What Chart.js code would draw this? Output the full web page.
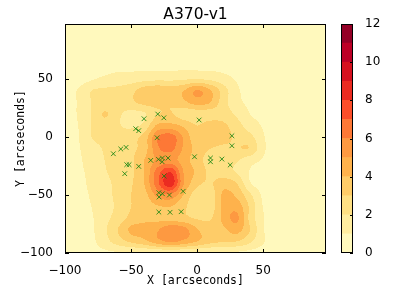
<!DOCTYPE html>
<html>
<head>
<meta charset="utf-8">
<script src="https://cdn.jsdelivr.net/npm/chart.js@4"></script>
<style>
  html, body { margin: 0; padding: 0; background: #fff; }
  #wrap { position: relative; width: 399px; height: 299px; }
  #main { position: absolute; left: 0; top: 0; }
  #cbar { position: absolute; left: 330px; top: 0; }
</style>
</head>
<body>
<div id="wrap">
  <canvas id="main" width="399" height="299"></canvas>
  <canvas id="cbar" width="69" height="299"></canvas>
</div>
<script>
// density grid (rows from y=100 down to y=-100)
const gridX = [-100, -90, -80, -70, -60, -50, -40, -30, -20, -10, 0, 10, 20, 30, 40, 50, 60, 70, 80, 90, 100];
const gridY = [100, 90, 80, 70, 60, 50, 40, 30, 20, 10, 0, -10, -20, -30, -40, -50, -60, -70, -80, -90, -100];
const density = [
  [0.1,0.1,0.1,0.1,0.1,0.1,0.1,0.1,0.1,0.1,0.1,0.1,0.1,0.1,0.1,0.1,0.1,0.1,0.1,0.1,0.1],
  [0.1,0.1,0.1,0.1,0.1,0.1,0.1,0.1,0.1,0.1,0.1,0.1,0.1,0.1,0.1,0.1,0.1,0.1,0.1,0.1,0.1],
  [0.1,0.2,0.2,0.2,0.2,0.2,0.2,0.2,0.2,0.2,0.2,0.2,0.2,0.2,0.1,0.1,0.1,0.1,0.1,0.1,0.1],
  [0.2,0.3,0.4,0.5,0.5,0.5,0.5,0.5,0.5,0.5,0.5,0.5,0.4,0.3,0.2,0.2,0.1,0.1,0.1,0.1,0.1],
  [0.2,0.4,0.6,0.7,0.8,0.8,0.8,0.8,0.8,0.8,0.8,0.8,0.7,0.5,0.3,0.2,0.1,0.1,0.1,0.1,0.1],
  [0.3,0.5,0.9,1.2,1.4,1.5,1.7,1.8,1.8,1.9,2.0,1.8,1.4,0.9,0.5,0.3,0.2,0.1,0.1,0.1,0.1],
  [0.4,1.1,2.0,2.2,2.3,2.7,3.5,3.8,3.5,4.0,5.1,4.1,2.5,1.2,0.6,0.4,0.2,0.1,0.1,0.1,0.1],
  [0.4,1.1,2.0,2.3,2.4,2.8,3.3,3.4,3.1,3.8,4.4,4.0,2.4,1.3,0.8,0.6,0.3,0.1,0.1,0.1,0.1],
  [0.4,1.1,2.0,3.1,2.2,1.7,1.9,2.9,3.1,2.4,2.4,2.5,2.5,1.8,1.0,0.7,0.3,0.1,0.1,0.1,0.1],
  [0.4,1.0,2.0,2.5,2.1,1.8,2.3,4.2,4.3,3.8,3.0,3.5,3.2,2.4,1.5,0.9,0.4,0.1,0.1,0.1,0.1],
  [0.4,0.95,2.0,2.3,2.4,2.7,3.4,5.9,6.5,4.8,3.3,3.9,3.5,2.7,2.3,1.1,0.5,0.2,0.1,0.1,0.1],
  [0.4,0.9,1.6,2.1,2.5,2.8,3.5,5.8,6.3,4.8,3.6,3.0,2.7,2.9,2.9,1.2,0.5,0.2,0.1,0.1,0.1],
  [0.3,0.8,1.5,2.0,2.5,2.8,4.0,5.2,5.4,4.5,3.4,2.6,2.4,2.1,1.4,0.9,0.4,0.1,0.1,0.1,0.1],
  [0.3,0.75,1.3,1.9,2.4,2.8,4.0,6.5,7.9,4.9,3.8,2.7,2.4,1.9,0.95,0.6,0.3,0.1,0.1,0.1,0.1],
  [0.3,0.7,1.2,1.7,2.3,2.9,4.0,6.7,8.6,5.0,3.3,2.9,3.6,3.0,1.1,0.6,0.3,0.1,0.1,0.1,0.1],
  [0.3,0.65,1.1,1.6,2.3,3.0,3.6,5.3,5.8,3.9,2.4,2.4,4.2,3.8,2.2,0.8,0.3,0.1,0.1,0.1,0.1],
  [0.3,0.6,1.0,1.6,2.2,3.0,3.4,3.9,4.0,3.2,2.3,2.4,4.3,4.6,2.8,0.95,0.3,0.1,0.1,0.1,0.1],
  [0.3,0.55,0.9,1.7,2.4,3.3,3.7,3.7,3.6,3.3,2.9,2.9,4.3,5.2,2.7,1.1,0.3,0.1,0.1,0.1,0.1],
  [0.3,0.5,0.85,1.8,3.0,4.2,4.4,4.9,5.8,5.4,4.1,3.4,3.8,4.4,3.0,1.1,0.3,0.1,0.1,0.1,0.1],
  [0.3,0.45,0.75,1.6,2.5,3.2,3.7,4.6,5.2,4.7,4.0,3.3,3.1,3.0,2.2,1.1,0.3,0.1,0.1,0.1,0.1],
  [0.2,0.4,0.6,0.8,0.9,0.9,1.0,1.0,1.0,1.0,0.95,0.9,0.9,0.85,0.7,0.5,0.2,0.1,0.1,0.1,0.1]
];

// green x markers
const ptX = [-40.2,-29.8,-25.2,1.5,-46.5,-44.2,-30.3,26.3,26.3,-63.4,-57.8,-53.8,-35.1,-29.3,-26.3,-26.5,-22,-2,10.1,10.1,18.7,25,-53.3,-51.5,-44.2,-54.8,-25,-29,-26.3,-28.8,-21,-10.6,-29,-20.5,-12.1];
const ptY = [15.8,19.8,16.6,14.7,7.2,5.5,-0.6,1.1,-7.5,-14.4,-10.3,-8.9,-20.1,-19.2,-18.1,-21.3,-18.1,-17,-18.1,-21.3,-19,-24.1,-23.8,-23.8,-25.3,-31.6,-33.6,-48,-48.9,-51.7,-50,-46.8,-64.7,-64.9,-64.4];

const levels = [0,1,2,3,4,5,6,7,8,9,10,11,12];
const xTicks = [-100, -50, 0, 50];
const yTicks = [-100, -50, 0, 50];
const cbTicks = [0, 2, 4, 6, 8, 10, 12];
const plotTitle = 'A370-v1';

// YlOrRd bands
const bandColors = [
  [255,249,189],[255,237,160],[254,224,132],[254,204,104],[254,178,76],[253,153,65],
  [253,120,54],[252,78,42],[235,43,33],[214,17,31],[189,0,38],[148,0,38]
];

function cr(p0, p1, p2, p3, t) {
  return p1 + 0.5 * t * (p2 - p0 + t * (2 * p0 - 5 * p1 + 4 * p2 - p3 + t * (3 * (p1 - p2) + p3 - p0)));
}
function cell(i, j) {
  i = Math.max(0, Math.min(gridY.length - 1, i));
  j = Math.max(0, Math.min(gridX.length - 1, j));
  return density[i][j];
}
function fieldAt(x, y) {
  const fx = (x - gridX[0]) / (gridX[1] - gridX[0]);
  const fy = (gridY[0] - y) / (gridY[0] - gridY[1]);
  const j = Math.floor(fx), i = Math.floor(fy);
  const tx = fx - j, ty = fy - i;
  const rows = [];
  for (let k = -1; k <= 2; k++) {
    rows.push(cr(cell(i + k, j - 1), cell(i + k, j), cell(i + k, j + 1), cell(i + k, j + 2), tx));
  }
  return cr(rows[0], rows[1], rows[2], rows[3], ty);
}

const fieldPlugin = {
  id: 'field',
  beforeDraw(chart) {
    const {ctx, chartArea: ca, scales: {x, y}} = chart;
    const L = Math.round(ca.left), T = Math.round(ca.top);
    const W = Math.round(ca.right) - L, H = Math.round(ca.bottom) - T;
    const img = ctx.createImageData(W, H);
    for (let r = 0; r < H; r++) {
      const yv = y.getValueForPixel(T + r + 0.5);
      for (let c = 0; c < W; c++) {
        const xv = x.getValueForPixel(L + c + 0.5);
        const v = fieldAt(xv, yv);
        let b = 0;
        for (let k = 1; k < levels.length - 1; k++) if (v >= levels[k]) b = k;
        const col = bandColors[b];
        const o = (r * W + c) * 4;
        img.data[o] = col[0]; img.data[o + 1] = col[1]; img.data[o + 2] = col[2]; img.data[o + 3] = 255;
      }
    }
    ctx.putImageData(img, L, T);
  }
};

const framePlugin = {
  id: 'frame',
  afterDraw(chart) {
    const {ctx, chartArea: ca, scales: {x, y}} = chart;
    ctx.save();
    ctx.strokeStyle = '#000';
    ctx.lineWidth = 1;
    ctx.beginPath();
    xTicks.forEach(v => {
      const px = Math.round(x.getPixelForValue(v)) + 0.5;
      ctx.moveTo(px, ca.bottom); ctx.lineTo(px, ca.bottom - 4);
      ctx.moveTo(px, ca.top); ctx.lineTo(px, ca.top + 4);
    });
    yTicks.forEach(v => {
      const py = Math.round(y.getPixelForValue(v)) + 0.5;
      ctx.moveTo(ca.left, py); ctx.lineTo(ca.left + 4, py);
      ctx.moveTo(ca.right, py); ctx.lineTo(ca.right - 4, py);
    });
    ctx.stroke();
    ctx.strokeRect(Math.round(ca.left) + 0.5, Math.round(ca.top) + 0.5,
      Math.round(ca.right - ca.left) - 1, Math.round(ca.bottom - ca.top) - 1);
    // title centred over the plot area
    ctx.fillStyle = '#000';
    ctx.font = '15.5px "DejaVu Sans"';
    ctx.textAlign = 'center';
    ctx.textBaseline = 'alphabetic';
    ctx.fillText(plotTitle, (ca.left + ca.right) / 2, ca.top - 5);
    ctx.restore();
  }
};

const minus = v => String(v).replace('-', '\u2212');
const tickFont = {family: 'DejaVu Sans', size: 12};
const labelFont = {family: 'DejaVu Sans Mono', size: 11.5};

new Chart(document.getElementById('main'), {
  type: 'scatter',
  data: {
    datasets: [{
      data: ptX.map((v, i) => ({x: v, y: ptY[i]})),
      pointStyle: 'crossRot',
      radius: 3.3,
      borderColor: 'rgba(10,128,10,0.8)',
      borderWidth: 1
    }]
  },
  options: {
    responsive: false,
    animation: false,
    devicePixelRatio: 1,
    layout: {padding: {left: 0, right: 73, top: 24, bottom: 0}},
    plugins: {
      legend: {display: false},
      tooltip: {enabled: false},
      title: {display: false}
    },
    scales: {
      x: {
        type: 'linear', min: -100, max: 97.5,
        afterBuildTicks: s => { s.ticks = xTicks.map(v => ({value: v})); },
        afterFit: s => { s.height = 46; },
        grid: {display: false}, border: {display: false},
        ticks: {font: tickFont, color: '#000', padding: 3, maxRotation: 0, autoSkip: false, callback: minus},
        title: {display: true, text: 'X [arcseconds]', color: '#000', font: labelFont, padding: {top: 0, bottom: 11}}
      },
      y: {
        type: 'linear', min: -100, max: 97.5,
        afterBuildTicks: s => { s.ticks = yTicks.map(v => ({value: v})); },
        afterFit: s => { s.width = 65; },
        grid: {display: false}, border: {display: false},
        ticks: {font: tickFont, color: '#000', padding: 4, autoSkip: false, callback: minus},
        title: {display: true, text: 'Y [arcseconds]', color: '#000', font: labelFont, padding: {top: 14, bottom: 0}}
      }
    }
  },
  plugins: [fieldPlugin, framePlugin]
});

const cbFrame = {
  id: 'cbFrame',
  afterDraw(chart) {
    const {ctx, chartArea: ca, scales: {y}} = chart;
    ctx.save();
    ctx.strokeStyle = '#000';
    ctx.lineWidth = 1;
    ctx.beginPath();
    cbTicks.forEach(v => {
      const py = Math.round(y.getPixelForValue(v)) + 0.5;
      ctx.moveTo(ca.right, py); ctx.lineTo(ca.right - 3, py);
    });
    ctx.stroke();
    ctx.strokeRect(Math.round(ca.left) + 0.5, Math.round(ca.top) + 0.5,
      Math.round(ca.right - ca.left) - 1, Math.round(ca.bottom - ca.top) - 1);
    ctx.restore();
  }
};

new Chart(document.getElementById('cbar'), {
  type: 'bar',
  data: {
    labels: [''],
    datasets: bandColors.map((c, i) => ({
      data: [levels[i + 1] - levels[i]],
      backgroundColor: `rgb(${c[0]},${c[1]},${c[2]})`,
      borderWidth: 0,
      barPercentage: 1,
      categoryPercentage: 1
    }))
  },
  options: {
    responsive: false,
    animation: false,
    devicePixelRatio: 1,
    layout: {padding: {left: 11, right: 0, top: 24, bottom: 46}},
    plugins: {legend: {display: false}, tooltip: {enabled: false}},
    scales: {
      x: {display: false, stacked: true},
      y: {
        stacked: true, position: 'right', min: 0, max: 12,
        afterBuildTicks: s => { s.ticks = cbTicks.map(v => ({value: v})); },
        afterFit: s => { s.width = 46; },
        grid: {display: false}, border: {display: false},
        ticks: {font: tickFont, color: '#000', padding: 4}
      }
    }
  },
  plugins: [cbFrame]
});
</script>
</body>
</html>
